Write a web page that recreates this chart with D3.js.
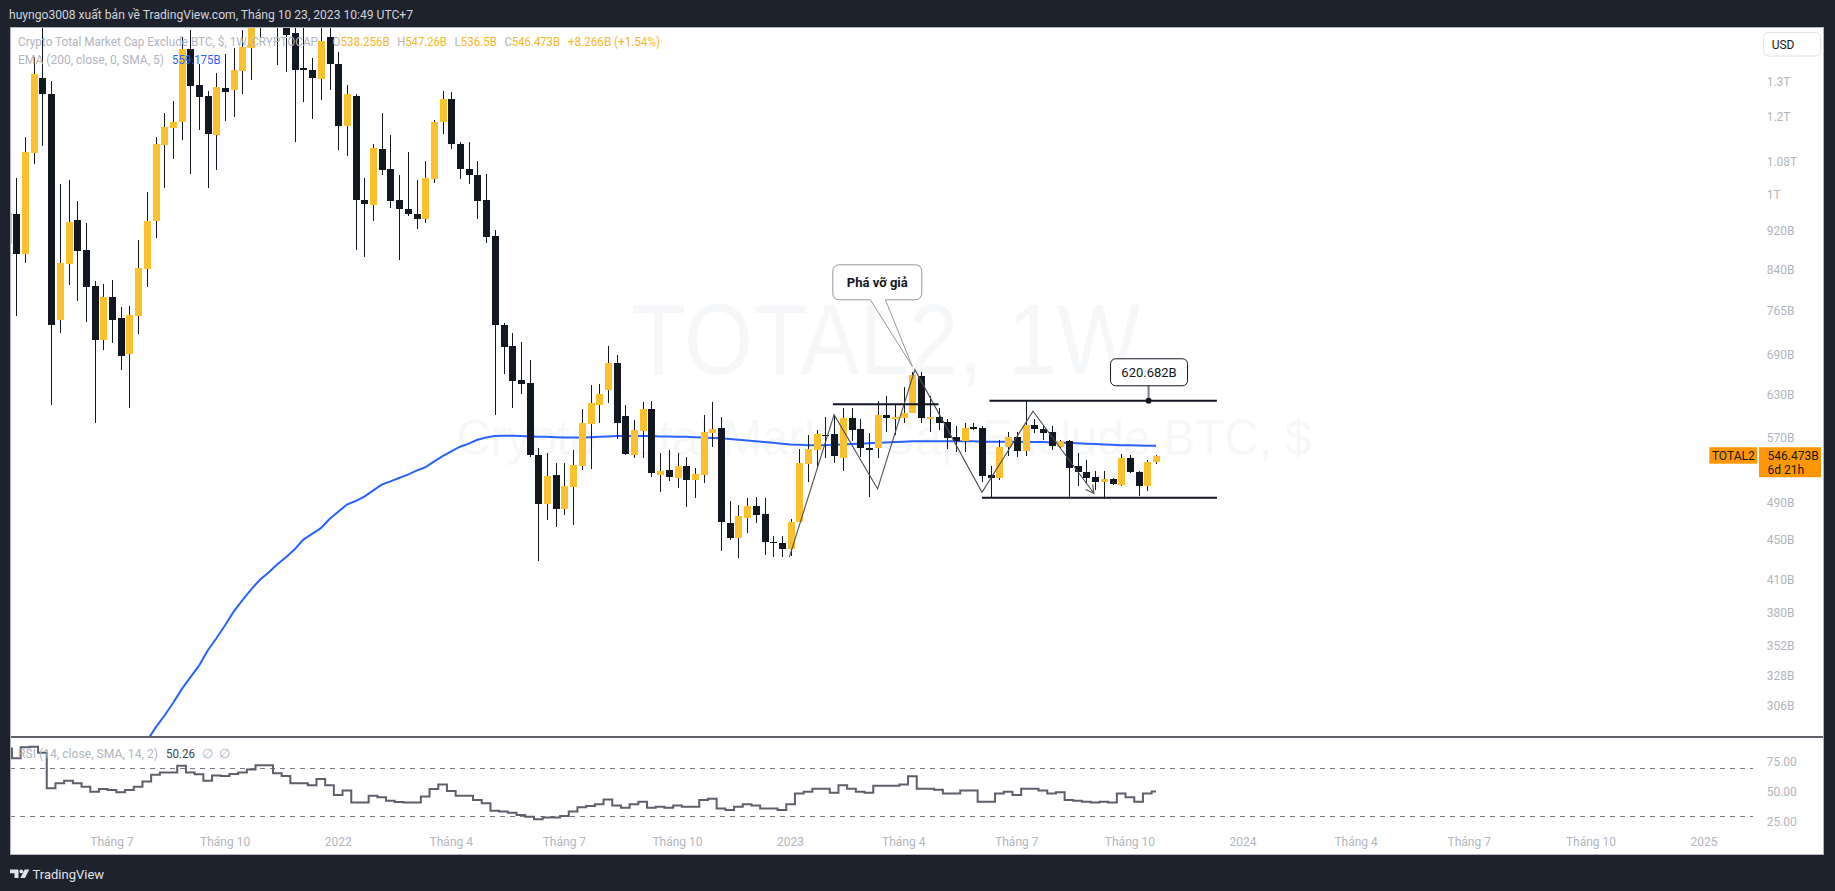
<!DOCTYPE html>
<html><head><meta charset="utf-8">
<script src="https://cdn.jsdelivr.net/npm/d3@7"></script>
<style>html,body{margin:0;padding:0;background:#1e222d;overflow:hidden}</style>
</head><body><svg id="c" width="1835" height="891"></svg>
<script>
// ---------------- DATA ----------------
const startWeek = "2021-04-12"; // first (partially visible) weekly bar
const opens = [892,957,872,1103,1311,1263,749,853,944,880,810,715,789,752,692,756,842,942,1123,1168,1184,1402,1290,1257,1149,1281,1275,1333,1406,1472,1640,1610,1500,1454,1341,1336,1307,1441,1355,1174,1257,988,977,1112,1062,988,968,957,946,1037,1183,1249,1126,1062,1047,989,909,740,705,651,647,547,489,522,483,508,534,588,615,636,677,599,547,579,609,523,529,519,534,516,523,576,583,468,452,473,486,477,447,446,440,469,536,554,574,575,544,597,582,556,556,601,595,596,603,657,595,598,591,571,565,584,583,523,519,557,571,552,587,582,577,558,565,534,526,520,514,518,511,544,526,509,538.256];
const highs = [975,1040,1143,1376,1500,1302,1026,1035,986,937,819,813,821,772,773,901,1007,1143,1208,1243,1442,1465,1354,1272,1326,1386,1406,1465,1560,1690,1720,1650,1530,1500,1490,1374,1485,1480,1393,1289,1264,1039,1125,1210,1150,1047,1104,1035,1083,1190,1273,1270,1131,1131,1081,1050,922,743,726,712,682,556,550,537,537,554,609,644,645,704,690,615,593,619,621,550,554,550,545,531,600,619,598,492,487,496,497,495,454,454,472,555,574,580,598,601,611,611,595,576,620,628,614,641,664,664,627,611,595,585,589,589,585,533,567,577,578,620,595,587,585,567,567,550,541,528,527,519,549,548,528,541,547.26];
const lows = [880,756,855,1074,1120,615,727,812,782,745,590,698,710,666,611,724,808,905,1016,1086,1136,1050,1162,1016,1060,1187,1199,1263,1305,1440,1560,1350,1331,1130,1241,1193,1246,1275,1110,1094,880,866,942,1047,971,860,953,924,938,1028,1152,1113,1037,1026,946,895,601,660,611,630,545,428,471,463,476,465,529,530,589,617,568,547,543,543,520,502,515,507,485,495,513,558,438,450,431,457,468,434,432,432,433,469,514,531,543,537,527,565,545,497,543,577,573,589,611,589,578,580,555,551,551,580,514,497,517,546,545,546,576,567,554,556,494,509,512,505,494,511,509,525,498,504,536.5];
const closes = [958,872,1105,1322,1263,740,854,940,879,808,715,789,749,688,757,844,942,1126,1170,1184,1402,1287,1254,1151,1284,1269,1336,1409,1478,1640,1610,1500,1449,1336,1336,1310,1430,1355,1173,1264,989,979,1114,1059,986,967,957,945,1040,1184,1249,1124,1062,1047,986,907,740,703,650,645,547,489,521,483,509,535,589,617,630,677,590,549,580,609,525,528,520,533,516,524,577,582,469,452,475,486,476,447,446,440,469,537,555,575,573,546,597,580,556,554,601,596,598,604,659,596,598,590,570,565,583,581,521,519,557,571,552,587,582,576,559,565,531,526,519,514,518,512,544,526,509,538,546.473];
const ema200 = [null,null,null,null,null,null,null,null,null,null,null,null,null,null,null,274,282,291,299,308,318,327,336,348,358,369,381,391,401,410,417,425,432,440,450,456,462,472,480,488,492,497,504,511,515,519,523,528,532,539,546,552,558,562,567,570,572,572.5,572.5,572,571.5,571,571,570.5,570,570,570,570.5,571,571.5,572,572,572,572,572,571.5,571.5,571,571,570.5,570,569.5,569,568,567,566,565,564,563,562,561,560.5,560,560,560,560.5,561,561.5,562,562.5,563,563.5,564,564.5,565,565,565,565,565,565,565,565,564.5,564.5,564.5,564.5,564.5,564,564,564,563.5,563,563,562.5,562,561.5,561,560.5,560,559.8,559.5,559.3,559.175];
const rsi14 = [86,77.8,87,87.5,82.5,52.8,57.0,59.2,57.0,54.2,50.0,52.2,51.4,49.5,51.4,54.2,58.4,64.2,65.9,66.1,71.7,66.1,64.5,59.2,63.4,63.1,64.8,66.1,68.6,72.0,72.0,65.3,63.1,57.0,57.0,55.3,60.6,55.3,47.3,50.9,41.1,41.1,46.7,45.3,42.5,41.4,40.9,40.9,45.9,52.2,56.1,50.6,46.7,46.7,43.1,40.3,34.2,33.4,32.5,30.6,29.2,27.0,28.6,28.4,29.7,33.4,37.0,38.1,39.5,43.6,38.4,36.7,39.5,41.7,36.7,37.5,36.7,38.4,37.5,37.5,43.1,44.2,35.9,34.7,37.5,39.5,38.4,35.9,35.9,34.7,39.5,48.6,50.0,52.5,52.5,49.2,55.3,52.5,50.0,49.2,55.0,55.0,55.0,56.1,62.8,52.5,52.5,51.7,48.6,48.6,50.9,50.9,41.7,41.7,48.6,50.0,47.2,52.5,52.5,50.9,48.6,49.5,43.1,42.5,41.7,40.9,41.7,40.9,48.6,45.3,41.7,48.6,50.26];

const priceTicks = [1300,1200,1080,1000,920,840,765,690,630,570,490,450,410,380,352,328,306];
const priceTickLabels = ["1.3T","1.2T","1.08T","1T","920B","840B","765B","690B","630B","570B","490B","450B","410B","380B","352B","328B","306B"];
const timeTicks = ["2021-07-05","2021-10-04","2022-01-03","2022-04-04","2022-07-04","2022-10-03","2023-01-02","2023-04-03","2023-07-03","2023-10-02","2024-01-01","2024-04-01","2024-07-01","2024-10-07","2025-01-06"];
const timeTickLabels = ["Tháng 7","Tháng 10","2022","Tháng 4","Tháng 7","Tháng 10","2023","Tháng 4","Tháng 7","Tháng 10","2024","Tháng 4","Tháng 7","Tháng 10","2025"];
const rsiTicks = [75,50,25];
const rsiTickLabels = ["75.00","50.00","25.00"];
const rsiBands = [70,30];

// drawings
const zigzag = [["2023-01-01",432],["2023-02-06",601],["2023-03-13",506],["2023-04-12",667],["2023-06-05",502],["2023-07-16",606],["2023-09-03",501]];
const levels = [["2023-02-05","2023-05-01",615.7],["2023-06-11","2023-12-11",620.682],["2023-06-05","2023-12-11",495.8]];
const calloutTip = ["2023-04-10",672];
const calloutText = "Phá vỡ giả";
const priceNote = ["2023-10-17",620.682];
const priceNoteText = "620.682B";

const headerText = "huyngo3008 xuất bản về TradingView.com, Tháng 10 23, 2023 10:49 UTC+7";
const legendTitle = "Crypto Total Market Cap Exclude BTC, $, 1W, CRYPTOCAP";
const legendOHLC = [["O","538.256B"],["H","547.26B"],["L","536.5B"],["C","546.473B"]];
const legendChange = "+8.266B (+1.54%)";
const emaLegend = "EMA (200, close, 0, SMA, 5)";
const emaValue = "559.175B";
const rsiLegend = "RSI (14, close, SMA, 14, 2)";
const rsiValue = "50.26";

// ---------------- LAYOUT ----------------
const svg = d3.select("#c");
const F = "Roboto, 'Liberation Sans', Arial, sans-serif";
const paneL = 10, paneR = 1758, mainT = 27, mainB = 736, sepY = 737, rsiB = 830, frameR = 1824, frameB = 855;
const UP = "#fbc02d", DN = "#131722", GRAYTXT = "#b2b5be";

const parse = s => new Date(s + "T00:00:00Z");
const dates = opens.map((_, i) => d3.utcMonday.offset(parse(startWeek), i));
const x = d3.scaleUtc().domain([parse("2021-04-19"), parse("2023-10-23")]).range([16.3, 1156]);
const y = d3.scaleLog().domain([306, 1300]).range([706, 81.7]);
const yr = d3.scaleLinear().domain([25, 75]).range([821.7, 761.7]);

svg.append("rect").attr("width", 1835).attr("height", 891).attr("fill", "#1e222d");
svg.append("rect").attr("x", paneL).attr("y", mainT).attr("width", frameR - paneL).attr("height", frameB - mainT)
  .attr("fill", "#ffffff");

const defs = svg.append("defs");
defs.append("clipPath").attr("id", "mclip").append("rect").attr("x", paneL).attr("y", mainT).attr("width", paneR - paneL).attr("height", mainB - mainT);
defs.append("clipPath").attr("id", "rclip").append("rect").attr("x", paneL).attr("y", sepY + 1).attr("width", paneR - paneL).attr("height", rsiB - sepY);

// header
svg.append("text").attr("x", 9).attr("y", 19).attr("fill", "#d1d4dc").attr("font-family", F).attr("font-size", 12.5)
  .attr("textLength", 404).attr("lengthAdjust", "spacingAndGlyphs").text(headerText);

// watermark
const wm = svg.append("g").attr("clip-path", "url(#mclip)").attr("fill", "#f6f7f9").attr("font-family", "'Liberation Sans', Arial, sans-serif").attr("text-anchor", "middle");
wm.append("text").attr("x", 886).attr("y", 374).attr("font-size", 100).attr("textLength", 509).attr("lengthAdjust", "spacingAndGlyphs").text("TOTAL2, 1W");
wm.append("text").attr("x", 884).attr("y", 455).attr("font-size", 50).attr("textLength", 855).attr("lengthAdjust", "spacingAndGlyphs").text("Crypto Total Market Cap Exclude BTC, $");

const gM = svg.append("g").attr("clip-path", "url(#mclip)");

// EMA
gM.append("path").datum(d3.range(opens.length))
  .attr("d", d3.line().defined(i => ema200[i] != null).x(i => x(dates[i])).y(i => y(ema200[i])))
  .attr("fill", "none").attr("stroke", "#2962ff").attr("stroke-width", 2);

// candles
const bw = 7;
const cg = gM.append("g").attr("shape-rendering", "crispEdges");
d3.range(opens.length).forEach(i => {
  const xc = Math.round(x(dates[i]));
  const up = closes[i] >= opens[i];
  cg.append("rect").attr("x", xc).attr("width", 1)
    .attr("y", Math.round(y(highs[i]))).attr("height", Math.max(1, Math.round(y(lows[i])) - Math.round(y(highs[i]))))
    .attr("fill", DN);
  const top = Math.round(y(Math.max(opens[i], closes[i])));
  const bot = Math.round(y(Math.min(opens[i], closes[i])));
  cg.append("rect").attr("x", xc - 3).attr("width", bw).attr("y", top).attr("height", Math.max(1, bot - top))
    .attr("fill", up ? UP : DN);
});

// zigzag drawing
const zz = zigzag.map(d => [x(parse(d[0])), y(d[1])]);
gM.append("path").attr("d", d3.line()(zz)).attr("fill", "none").attr("stroke", "#4a4d57").attr("stroke-width", 1.1);
{
  const a = zz[zz.length - 2], b = zz[zz.length - 1];
  const ang = Math.atan2(b[1] - a[1], b[0] - a[0]);
  const L = 9;
  const p1 = [b[0] - L * Math.cos(ang - 0.5), b[1] - L * Math.sin(ang - 0.5)];
  const p2 = [b[0] - L * Math.cos(ang + 0.5), b[1] - L * Math.sin(ang + 0.5)];
  gM.append("path").attr("d", `M${p1}L${b}L${p2}`).attr("fill", "none").attr("stroke", "#4a4d57").attr("stroke-width", 1.1);
}
// horizontal levels
levels.forEach(l => {
  gM.append("line").attr("x1", x(parse(l[0]))).attr("x2", x(parse(l[1]))).attr("y1", y(l[2])).attr("y2", y(l[2]))
    .attr("stroke", "#131722").attr("stroke-width", 2);
});
// price note
{
  const px = x(parse(priceNote[0])), py = y(priceNote[1]);
  const bx = px - 38, by = py - 42, bwid = 77, bh = 27;
  gM.append("line").attr("x1", px).attr("x2", px).attr("y1", by + bh).attr("y2", py).attr("stroke", "#787b86").attr("stroke-width", 2);
  gM.append("circle").attr("cx", px).attr("cy", py).attr("r", 3).attr("fill", "#131722");
  gM.append("rect").attr("x", bx).attr("y", by).attr("width", bwid).attr("height", bh).attr("rx", 5)
    .attr("fill", "#fff").attr("stroke", "#131722").attr("stroke-width", 1);
  gM.append("text").attr("x", bx + bwid / 2).attr("y", by + bh / 2 + 4.5).attr("text-anchor", "middle")
    .attr("font-family", F).attr("font-size", 13).attr("fill", "#131722").text(priceNoteText);
}
// callout
{
  const tx = x(parse(calloutTip[0])), ty = y(calloutTip[1]);
  const x0 = tx - 79.6, x1 = tx + 9.4, y0 = ty - 101.7, y1 = ty - 66.7, r = 7;
  const b1 = tx - 42, b2 = tx - 27;
  const d = `M${x0 + r},${y0}H${x1 - r}Q${x1},${y0} ${x1},${y0 + r}V${y1 - r}Q${x1},${y1} ${x1 - r},${y1}H${b2}L${tx},${ty}L${b1},${y1}H${x0 + r}Q${x0},${y1} ${x0},${y1 - r}V${y0 + r}Q${x0},${y0} ${x0 + r},${y0}Z`;
  gM.append("path").attr("d", d).attr("fill", "#fff").attr("stroke", "#9598a1").attr("stroke-width", 1);
  gM.append("text").attr("x", (x0 + x1) / 2).attr("y", (y0 + y1) / 2 + 4.5).attr("text-anchor", "middle")
    .attr("font-family", F).attr("font-size", 13).attr("font-weight", "bold").attr("fill", "#131722").text(calloutText);
}

// legends
{
  const lg = svg.append("g").attr("font-family", F).attr("font-size", 12.5);
  lg.append("text").attr("x", 18).attr("y", 46).attr("fill", GRAYTXT).attr("textLength", 300).attr("lengthAdjust", "spacingAndGlyphs").text(legendTitle);
  const ox = [332.6, 397.3, 454.5, 504.5];
  const ow = [57, 49.5, 42.5, 55.5];
  legendOHLC.forEach((p, i) => {
    const t = lg.append("text").attr("x", ox[i]).attr("y", 46).attr("textLength", ow[i]).attr("lengthAdjust", "spacingAndGlyphs");
    t.append("tspan").attr("fill", GRAYTXT).text(p[0]);
    t.append("tspan").attr("fill", "#f7b52c").text(p[1]);
  });
  lg.append("text").attr("x", 568).attr("y", 46).attr("fill", "#f7b52c").attr("textLength", 92).attr("lengthAdjust", "spacingAndGlyphs").text(legendChange);
  lg.append("text").attr("x", 18).attr("y", 64).attr("fill", GRAYTXT).attr("textLength", 146).attr("lengthAdjust", "spacingAndGlyphs").text(emaLegend);
  lg.append("text").attr("x", 172).attr("y", 64).attr("fill", "#2962ff").attr("textLength", 48.5).attr("lengthAdjust", "spacingAndGlyphs").text(emaValue);
}

// price axis
const ax = svg.append("g").attr("font-family", F).attr("font-size", 12);
priceTicks.forEach((v, i) => {
  ax.append("text").attr("x", 1766.7).attr("y", y(v) + 4.3).attr("fill", GRAYTXT).text(priceTickLabels[i]);
});
ax.append("rect").attr("x", 1763.5).attr("y", 32.5).attr("width", 57).attr("height", 23.5).attr("rx", 4)
  .attr("fill", "#fff").attr("stroke", "#e0e3eb");
ax.append("text").attr("x", 1771.7).attr("y", 48.5).attr("fill", "#131722").text("USD");
{
  const ly = y(closes[closes.length - 1]);
  ax.append("rect").attr("x", 1709.3).attr("y", ly - 8.5).attr("width", 48).attr("height", 16.5).attr("fill", "#ff9800");
  ax.append("text").attr("x", 1733.3).attr("y", ly + 4).attr("text-anchor", "middle").attr("fill", "#131722").text("TOTAL2");
  ax.append("rect").attr("x", 1759).attr("y", ly - 8.5).attr("width", 62).attr("height", 30).attr("fill", "#ff9800");
  ax.append("text").attr("x", 1767.5).attr("y", ly + 4).attr("fill", "#131722").text(closes[closes.length - 1] + "B");
  ax.append("text").attr("x", 1767.5).attr("y", ly + 18).attr("fill", "#131722").text("6d 21h");
}

// separator
svg.append("line").attr("x1", paneL).attr("x2", frameR).attr("y1", sepY).attr("y2", sepY).attr("stroke", "#2a2e39").attr("stroke-width", 1.5);

// RSI pane
const gR = svg.append("g");
rsiBands.forEach(v => {
  gR.append("line").attr("x1", paneL).attr("x2", 1753).attr("y1", Math.round(yr(v)) + 0.5).attr("y2", Math.round(yr(v)) + 0.5)
    .attr("stroke", "#787b86").attr("stroke-dasharray", "5,5").attr("stroke-width", 1);
});
gR.append("g").attr("clip-path", "url(#rclip)").append("path").datum(d3.range(rsi14.length))
  .attr("d", d3.line().curve(d3.curveStep).x(i => x(dates[i])).y(i => yr(rsi14[i])))
  .attr("fill", "none").attr("stroke", "#5d606b").attr("stroke-width", 2);
{
  const t = gR.append("g").attr("font-family", F).attr("font-size", 12.5);
  t.append("text").attr("x", 18).attr("y", 757.5).attr("fill", GRAYTXT).attr("textLength", 140).attr("lengthAdjust", "spacingAndGlyphs").text(rsiLegend);
  t.append("text").attr("x", 166).attr("y", 757.5).attr("fill", "#434651").attr("textLength", 29).attr("lengthAdjust", "spacingAndGlyphs").text(rsiValue);
  t.append("text").attr("x", 202).attr("y", 757.5).attr("fill", GRAYTXT).text("∅");
  t.append("text").attr("x", 219).attr("y", 757.5).attr("fill", GRAYTXT).text("∅");
}
rsiTicks.forEach((v, i) => {
  ax.append("text").attr("x", 1766.7).attr("y", yr(v) + 4.3).attr("fill", GRAYTXT).text(rsiTickLabels[i]);
});

// time axis
timeTicks.forEach((d, i) => {
  ax.append("text").attr("x", x(parse(d))).attr("y", 846).attr("text-anchor", "middle").attr("fill", GRAYTXT).text(timeTickLabels[i]);
});

// frame border
svg.append("rect").attr("x", paneL + 0.5).attr("y", mainT + 0.5).attr("width", frameR - paneL - 1).attr("height", frameB - mainT - 1)
  .attr("fill", "none").attr("stroke", "#b2b5be").attr("stroke-width", 1);

// bottom logo
{
  const g = svg.append("g").attr("fill", "#e0e3eb");
  g.append("path").attr("d", "M10,869.5H18.5V878H14.5V873.3H10Z");
  g.append("circle").attr("cx", 21.3).attr("cy", 871.4).attr("r", 1.9);
  g.append("path").attr("d", "M24.6,869.5H29.3L25,878H20.4Z");
  g.append("text").attr("x", 32.5).attr("y", 878.5).attr("font-family", F).attr("font-size", 13).attr("fill", "#e0e3eb").text("TradingView");
}
</script></body></html>
